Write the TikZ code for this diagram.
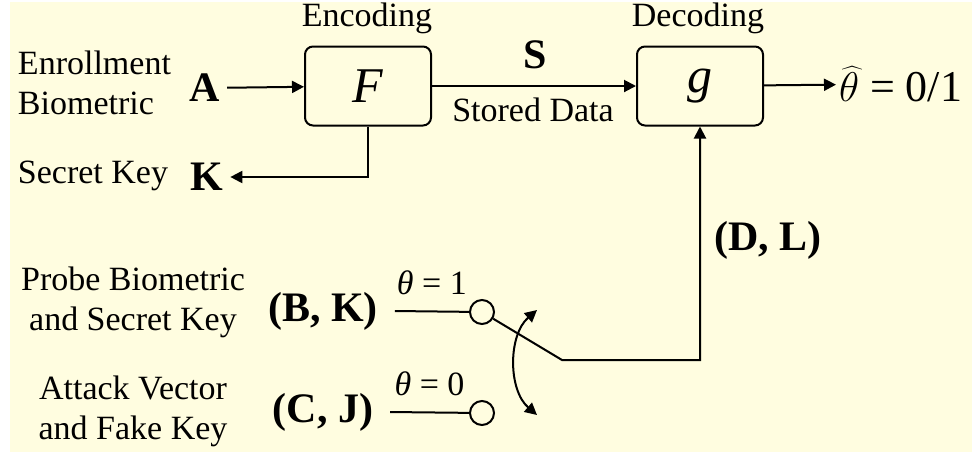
\documentclass[tikz,border=0pt]{standalone}
\usepackage{fontspec}
\setmainfont{Liberation Serif}
\usetikzlibrary{arrows.meta}
\definecolor{paper}{HTML}{FFFDE0}

\begin{document}
\begin{tikzpicture}[x=0.5pt, y=-0.5pt, line width=1pt, >={Triangle[length=6pt,width=6pt]},
		txt/.style={font=\fontsize{17}{20}\selectfont, inner sep=1pt},
		sym/.style={font=\fontsize{21}{23}\selectfont\bfseries, inner sep=3pt},
		blk/.style={draw, rounded corners=4pt, minimum width=63pt, minimum height=39.5pt, font=\fontsize{25}{27}\selectfont\itshape},
		lbl/.style={font=\fontsize{17}{19}\selectfont, inner sep=2pt},
		pin/.style={draw, circle, minimum size=12pt, inner sep=0pt}]
		% o fundo
			\useasboundingbox (0,0) rectangle (974,452);
			\fill[paper] (10,2) rectangle (972,452);

		% os blocos de cima
			\node[blk] (F) at (368,86) {F};
			\node[blk] (g) at (700,86) {g};
			\node[txt] (enc) at (367,18) {Encoding};
			\node[txt] (dec) at (698,18) {Decoding};
			\node[txt, align=left, anchor=west] (enroll) at (15,83) {Enrollment\\Biometric};
			\node[sym] (A) at (205,88) {A};
			\node[sym] (K) at (207,177) {K};
			\node[txt, anchor=east] (skey) at (171,176) {Secret Key};
			\node[sym] (S) at (535,55) {S};
			\node[txt] (stored) at (533,110) {Stored Data};
			\node[font=\fontsize{22}{24}\selectfont, anchor=west, inner sep=1pt] (out) at (836,84) {$\widehat{\theta}$ = 0/1};
			\draw[->] (A) -- (F);
			\draw[->] (F) |- (K);
			\draw[->] (F) -- (g);
			\draw[->] (g) -- (out);

		% a chave de baixo
			\node[txt, align=center] (probe) at (133,302) {Probe Biometric\\and Secret Key};
			\node[txt, align=center] (attack) at (133,411) {Attack Vector\\and Fake Key};
			\node[sym] (BK) at (323,311) {(B, K)};
			\node[sym] (CJ) at (323,412) {(C, J)};
			\node[pin] (s1) at (482,312) {};
			\node[pin] (s0) at (482,413) {};
			\draw ([xshift=5pt]BK.east) -- node[lbl, above=6pt] {{\itshape θ} = 1} (s1);
			\draw ([xshift=5pt]CJ.east) -- node[lbl, above=6pt] {{\itshape θ} = 0} (s0);
			\coordinate (c) at (562,360);
			\draw[->] (s1) -- (c) -| (g);
			\node[sym] (DL) at (768,240) {(D, L)};
			\coordinate (up) at (537,310);
			\coordinate (dn) at (537,415);
			\draw[<->] (up) .. controls (508,335) and (508,390) .. (dn);
	\end{tikzpicture}
\end{document}
